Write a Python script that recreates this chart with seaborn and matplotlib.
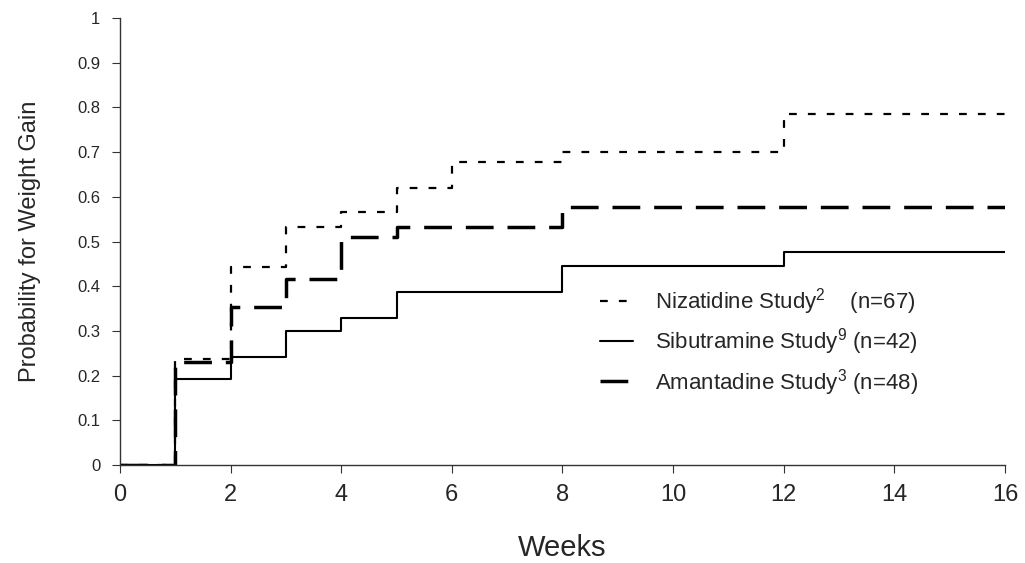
import matplotlib
matplotlib.use("Agg")
import matplotlib.pyplot as plt
import numpy as np
import pandas as pd
import seaborn as sns

# Kaplan-Meier style step curves
niz_weeks = [0, 1, 2, 3, 4, 5, 6, 8, 12, 16]
niz_prob = [0, 0.237, 0.443, 0.532, 0.566, 0.62, 0.678, 0.70, 0.785, 0.785]

sib_weeks = [0, 1, 2, 3, 4, 5, 8, 12, 16]
sib_prob = [0, 0.193, 0.241, 0.30, 0.328, 0.387, 0.445, 0.477, 0.477]

ama_weeks = [0, 1, 2, 3, 4, 5, 8, 16]
ama_prob = [0, 0.23, 0.354, 0.417, 0.51, 0.532, 0.577, 0.577]

labels = [r"Nizatidine Study$^{2}$    (n=67)",
          r"Sibutramine Study$^{9}$ (n=42)",
          r"Amantadine Study$^{3}$ (n=48)"]

sns.set_style("ticks")
plt.rcParams['font.family'] = ['Liberation Sans', 'DejaVu Sans']
plt.rcParams['mathtext.fontset'] = 'custom'
plt.rcParams['mathtext.rm'] = 'Liberation Sans'
plt.rcParams['mathtext.it'] = 'Liberation Sans'

fig = plt.figure(figsize=(10.25, 5.63), dpi=100)
ax = fig.add_axes([0.117, 0.174, 0.8635, 0.794])

series = [
    (niz_weeks, niz_prob, (0, (3.5, 5)), 1.6),
    (sib_weeks, sib_prob, "-", 1.5),
    (ama_weeks, ama_prob, (0, (8, 4)), 2.5),
]
for (w, p, ls, lw), lab in zip(series, labels):
    df = pd.DataFrame({"Weeks": w, "Prob": p})
    sns.lineplot(data=df, x="Weeks", y="Prob", ax=ax, drawstyle="steps-post",
                 estimator=None, color="black", linestyle=ls, linewidth=lw, label=lab)

ax.set_xlim(0, 16)
ax.set_ylim(0, 1)
ax.set_xticks(np.arange(0, 17, 2))
ax.set_yticks(np.arange(0, 1.01, 0.1))
ax.set_yticklabels(["0"] + ["%.1f" % v for v in np.arange(0.1, 0.95, 0.1)] + ["1"])
ax.tick_params(axis="x", labelsize=17, length=6, direction="out", color="#333333", pad=8)
ax.tick_params(axis="y", labelsize=12, length=6, direction="out", color="#333333", pad=8)
ax.set_xlabel("Weeks", fontsize=21, labelpad=20)
ax.set_ylabel("Probability for Weight Gain", fontsize=17, labelpad=26)
for s in ["top", "right"]:
    ax.spines[s].set_visible(False)
for s in ["left", "bottom"]:
    ax.spines[s].set_color("#333333")
    ax.spines[s].set_linewidth(1.0)

ax.legend(loc="upper left", bbox_to_anchor=(0.542, 0.40), frameon=False, fontsize=16,
          handlelength=1.5, labelspacing=0.42, handletextpad=1.0,
          borderpad=0, borderaxespad=0)

fig.savefig("out.png", dpi=100)
